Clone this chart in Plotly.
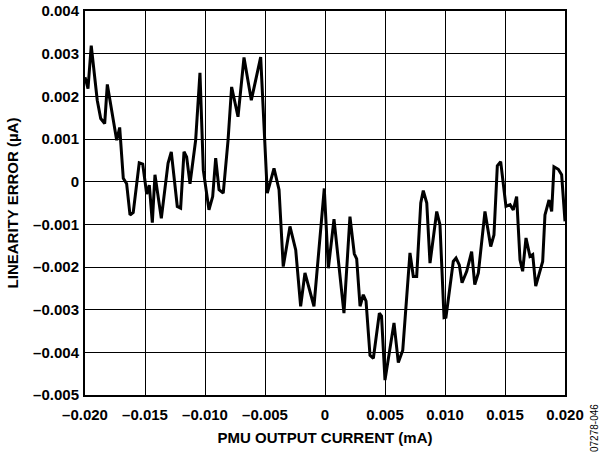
import plotly.graph_objects as go

current_ma = [-0.02, -0.01975, -0.01948, -0.01898, -0.01869, -0.01836, -0.01814, -0.01736, -0.01711,
              -0.01681, -0.01653, -0.01625, -0.01598, -0.01548, -0.01519, -0.01486, -0.01464, -0.01439,
              -0.01417, -0.01364, -0.01308, -0.01281, -0.01231, -0.01203, -0.01175, -0.01153, -0.01125,
              -0.01078, -0.01042, -0.01014, -0.00967, -0.00936, -0.00911, -0.00883, -0.00848, -0.00808,
              -0.00778, -0.00725, -0.00675, -0.00614, -0.00536, -0.00481, -0.00425, -0.00383, -0.00348,
              -0.00292, -0.00244, -0.00203, -0.00167, -0.00092, -0.00006, 0.00028, 0.00075, 0.00158,
              0.00208, 0.00244, 0.00264, 0.00292, 0.00319, 0.00342, 0.00375, 0.00403, 0.00453, 0.00471,
              0.005, 0.00575, 0.00611, 0.00648, 0.00708, 0.00736, 0.00764, 0.00798, 0.00819, 0.00848,
              0.00875, 0.00931, 0.00958, 0.00992, 0.01008, 0.01069, 0.01092, 0.01119, 0.01142, 0.01181,
              0.01222, 0.01248, 0.01278, 0.01333, 0.01381, 0.01408, 0.01436, 0.01464, 0.01508, 0.01542,
              0.01569, 0.01597, 0.01625, 0.01647, 0.01675, 0.01708, 0.01731, 0.01756, 0.01814, 0.01833,
              0.01867, 0.01889, 0.01908, 0.01944, 0.01972, 0.02]

linearity_error = [0.00245, 0.00218, 0.00319, 0.00191, 0.00148, 0.00136, 0.00228, 0.00097, 0.00127,
                   0.00008, -0.00005, -0.00078, -0.00072, 0.00044, 0.00041, -0.00029, -0.00008, -0.00096,
                   0.00016, -0.00086, 0.00043, 0.00070, -0.00058, -0.00062, 0.00070, 0.00058, -0.00005,
                   0.00097, 0.00255, 0.00027, -0.00066, -0.00035, 0.00055, -0.00019, -0.00027, 0.00097,
                   0.00222, 0.00152, 0.00291, 0.00191, 0.00292, -0.00027, 0.00031, -0.00019, -0.00199,
                   -0.00105, -0.00160, -0.00292, -0.00214, -0.00292, -0.00016, -0.00203, -0.00088, -0.00308,
                   -0.00082, -0.00169, -0.00181, -0.00292, -0.00265, -0.00280, -0.00407, -0.00414, -0.00308,
                   -0.00315, -0.00465, -0.00331, -0.00424, -0.00395, -0.00167, -0.00222, -0.00222, -0.00050,
                   -0.00021, -0.00050, -0.00191, -0.00070, -0.00101, -0.00319, -0.00318, -0.00187, -0.00179,
                   -0.00195, -0.00237, -0.00210, -0.00164, -0.00241, -0.00214, -0.00070, -0.00152, -0.00125,
                   0.00037, 0.00047, -0.00058, -0.00054, -0.00066, -0.00035, -0.00183, -0.00210, -0.00132,
                   -0.00175, -0.00171, -0.00245, -0.00187, -0.00078, -0.00043, -0.00070, 0.00035, 0.00029,
                   0.00016, -0.00093]

x_tick_vals = [-0.02, -0.015, -0.01, -0.005, 0, 0.005, 0.01, 0.015, 0.02]
x_tick_text = ["–0.020", "–0.015", "–0.010", "–0.005", "0", "0.005", "0.010", "0.015", "0.020"]
y_tick_vals = [0.004, 0.003, 0.002, 0.001, 0, -0.001, -0.002, -0.003, -0.004, -0.005]
y_tick_text = ["0.004", "0.003", "0.002", "0.001", "0", "–0.001", "–0.002", "–0.003", "–0.004", "–0.005"]

fig = go.Figure()
fig.add_trace(go.Scatter(x=current_ma, y=linearity_error, mode="lines",
                         line=dict(color="black", width=3), showlegend=False))

font_main = "Liberation Sans, Arial, sans-serif"
fs = 15
fig.update_layout(
    width=600, height=452,
    margin=dict(l=85, r=35, t=11, b=57, autoexpand=False),
    paper_bgcolor="white", plot_bgcolor="white",
    font=dict(family=font_main, color="black", size=fs),
    xaxis=dict(range=[-0.02, 0.02], tickvals=x_tick_vals, ticktext=x_tick_text,
               showgrid=True, gridcolor="black", gridwidth=1, zeroline=False,
               showline=True, linecolor="black", linewidth=2, mirror=True, automargin=False,
               ticks="", ticklen=0, ticklabelstandoff=5, ticklabeloverflow="allow",
               tickfont=dict(size=fs, family=font_main, weight="bold"),
               title=dict(text="<b>PMU OUTPUT CURRENT (mA)</b>", font=dict(size=fs), standoff=10)),
    yaxis=dict(range=[-0.005, 0.004], tickvals=y_tick_vals, ticktext=y_tick_text,
               showgrid=True, gridcolor="black", gridwidth=1, zeroline=False,
               showline=True, linecolor="black", linewidth=2, mirror=True, automargin=False,
               ticks="", ticklen=0, ticklabelstandoff=1, ticklabeloverflow="allow",
               tickfont=dict(size=fs, family=font_main, weight="bold"),
               title=dict(text="<b>LINEARITY ERROR (µA)</b>", font=dict(size=fs), standoff=11)),
)
fig.add_annotation(text="07278-046", x=1.0, y=0.0, xref="paper", yref="paper",
                   xshift=29, yshift=-7, textangle=-90, showarrow=False,
                   font=dict(size=10, family=font_main), xanchor="center", yanchor="top")

fig.write_html("out.html", config={"displayModeBar": False},
               post_script="document.body.style.margin='0';")
